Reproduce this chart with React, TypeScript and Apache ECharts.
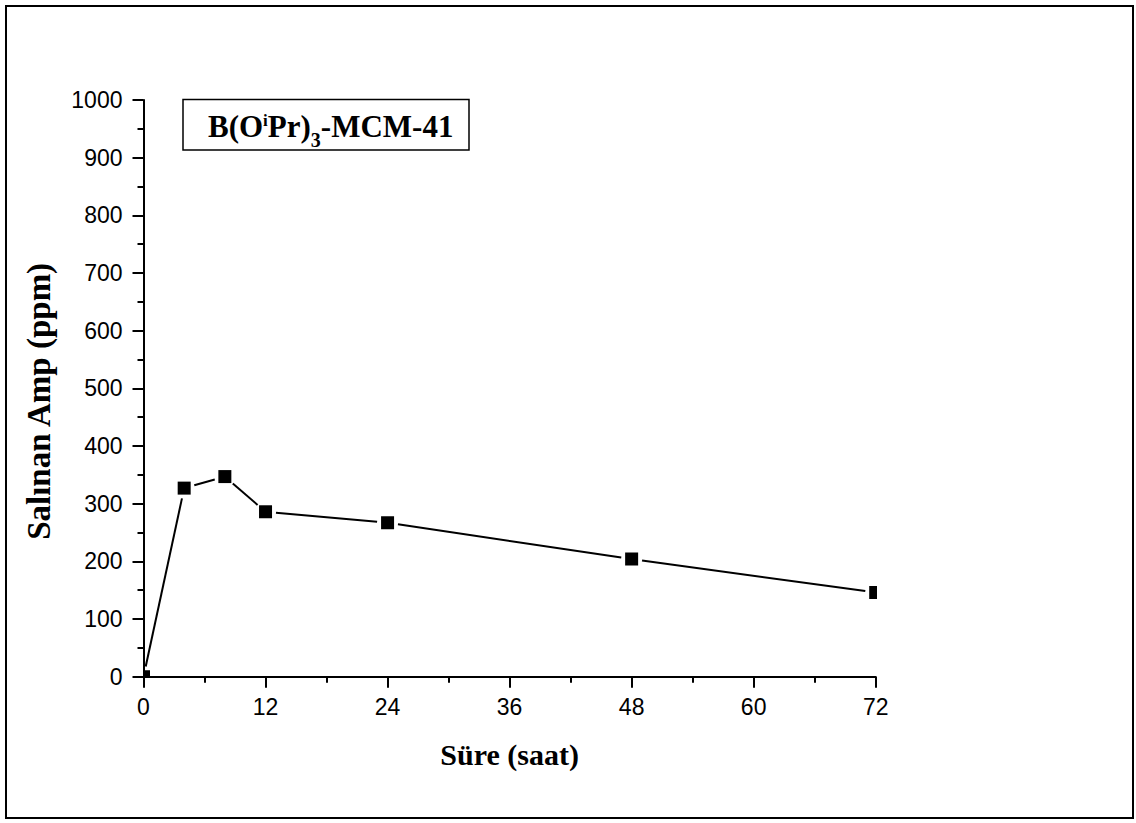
import React, { useEffect, useRef } from "react";
import * as echarts from "echarts";

const hours = [0, 4, 8, 12, 24, 48, 72];
const released = [0, 327, 347, 286, 267, 204, 146];
const xAxisTitle = "Süre (saat)";
const yAxisTitle = "Salınan Amp (ppm)";

const SERIF = "'Times New Roman', 'Liberation Serif', serif";
const SANS = "Arial, 'Liberation Sans', sans-serif";

export default function App() {
  const ref = useRef<HTMLDivElement>(null);
  useEffect(() => {
    const chart = echarts.init(ref.current!, null, { renderer: "svg" });
    const data = hours.map((h, i) => [h, released[i]]);
    const GAP = 10.5;
    const axisCommon = {
      type: "value",
      nameLocation: "middle",
      axisLine: { show: true, onZero: false, lineStyle: { color: "#000", width: 2 } },
      axisTick: { show: true, inside: false, length: 11, lineStyle: { color: "#000", width: 2 } },
      minorTick: { show: true, splitNumber: 2, length: 6, lineStyle: { color: "#000", width: 2 } },
      splitLine: { show: false },
      minorSplitLine: { show: false },
    };
    const labelCommon = {
      fontFamily: SANS,
      fontSize: 23,
      color: "#000",
      showMinLabel: true,
      showMaxLabel: true,
      formatter: (v: number) => String(v),
    };
    chart.setOption({
      animation: false,
      backgroundColor: "#fff",
      grid: { left: 143.5, right: 260.3, top: 100, bottom: 146.3, containLabel: false, outerBoundsMode: "none" },
      xAxis: {
        ...axisCommon,
        min: 0,
        max: 72,
        interval: 12,
        name: xAxisTitle,
        nameGap: 63,
        nameTextStyle: { fontFamily: SERIF, fontWeight: "bold", fontSize: 30, color: "#000" },
        axisLabel: { ...labelCommon, margin: 19 },
      },
      yAxis: {
        ...axisCommon,
        min: 0,
        max: 1000,
        interval: 100,
        name: yAxisTitle,
        nameGap: 88,
        nameRotate: 90,
        nameTextStyle: {
          fontFamily: SERIF,
          fontWeight: "bold",
          fontSize: 33,
          color: "#000",
          padding: [0, 26, 0, 0],
        },
        axisLabel: { ...labelCommon, margin: 21 },
      },
      graphic: [
        {
          type: "rect",
          shape: { x: 6, y: 6, width: 1127, height: 812 },
          style: { fill: "none", stroke: "#000", lineWidth: 2 },
          silent: true,
        },
        {
          type: "rect",
          shape: { x: 183, y: 99.5, width: 286, height: 50.5 },
          style: { fill: "#fff", stroke: "#000", lineWidth: 1.5 },
          z: 10,
        },
        {
          type: "text",
          x: 208,
          y: 106,
          z: 11,
          style: {
            text: "{m|B(O}{sup|i}{m|Pr)}{sub|3}{m|-MCM-41}",
            verticalAlign: "top",
            align: "left",
            rich: {
              m: { fontFamily: SERIF, fontWeight: "bold", fontSize: 31, lineHeight: 40, fill: "#000" },
              sup: {
                fontFamily: SERIF,
                fontWeight: "bold",
                fontSize: 17,
                lineHeight: 8,
                verticalAlign: "top",
                padding: [6, 0, 0, 0],
                fill: "#000",
              },
              sub: {
                fontFamily: SERIF,
                fontWeight: "bold",
                fontSize: 20,
                lineHeight: 8,
                verticalAlign: "top",
                padding: [24, 0, 0, 0],
                fill: "#000",
              },
            },
          },
        },
      ],
      series: [
        {
          type: "custom",
          clip: true,
          data,
          encode: { x: 0, y: 1 },
          renderItem: (params: any, api: any) => {
            const i = params.dataIndex;
            const p = api.coord([api.value(0), api.value(1)]);
            const children: any[] = [];
            if (i > 0) {
              const q = api.coord(data[i - 1]);
              const dx = p[0] - q[0];
              const dy = p[1] - q[1];
              const len = Math.hypot(dx, dy);
              if (len > 2 * GAP) {
                const ux = dx / len;
                const uy = dy / len;
                children.push({
                  type: "line",
                  shape: { x1: q[0] + ux * GAP, y1: q[1] + uy * GAP, x2: p[0] - ux * GAP, y2: p[1] - uy * GAP },
                  style: { stroke: "#000", lineWidth: 2 },
                });
              }
            }
            children.push({
              type: "rect",
              shape: { x: p[0] - 6.5, y: p[1] - 6.5, width: 13, height: 13 },
              style: { fill: "#000" },
            });
            return { type: "group", children };
          },
        },
      ],
    });
    return () => chart.dispose();
  }, []);
  return (
    <div
      ref={ref}
      style={{ position: "absolute", left: 0, top: 0, width: 1136, height: 823 }}
    />
  );
}
